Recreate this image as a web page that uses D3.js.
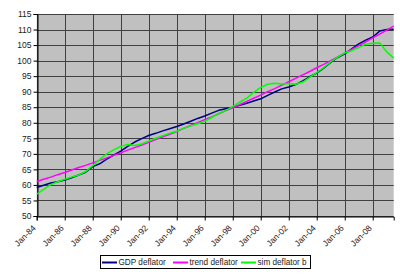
<!DOCTYPE html>
<html><head><meta charset="utf-8">
<script src="https://cdn.jsdelivr.net/npm/d3@7/dist/d3.min.js"></script>
<style>body{margin:0;background:#fff}svg{display:block}text{font-family:"Liberation Sans",Arial,sans-serif;fill:#222}</style>
</head><body><svg id="c" width="400" height="274"></svg>
<script>
// semiannual observation dates (Jan / Jul), 1984 .. Jul 2009
const dates = ["1984-01","1984-07","1985-01","1985-07","1986-01","1986-07","1987-01","1987-07","1988-01","1988-07",
"1989-01","1989-07","1990-01","1990-07","1991-01","1991-07","1992-01","1992-07","1993-01","1993-07",
"1994-01","1994-07","1995-01","1995-07","1996-01","1996-07","1997-01","1997-07","1998-01","1998-07",
"1999-01","1999-07","2000-01","2000-07","2001-01","2001-07","2002-01","2002-07","2003-01","2003-07",
"2004-01","2004-07","2005-01","2005-07","2006-01","2006-07","2007-01","2007-07","2008-01","2008-07",
"2009-01","2009-07"];
const gdpDeflator = [59.2,59.9,60.6,61.0,61.6,62.3,63.2,64.1,65.9,66.8,
68.3,69.6,70.9,72.4,73.8,74.9,75.9,76.6,77.4,78.1,
78.8,79.6,80.5,81.4,82.2,83.1,84.0,84.5,85.0,85.6,
86.3,87.0,87.7,88.8,89.9,90.9,91.5,92.3,93.5,94.8,
96.0,97.6,99.4,101.0,102.2,103.8,105.4,106.6,107.6,109.5,
110.0,110.1];
const trendDeflator = [61.1,61.8,62.5,63.3,64.0,64.8,65.6,66.3,67.1,67.9,
68.7,69.5,70.3,71.2,72.0,72.8,73.7,74.6,75.5,76.3,
77.2,78.2,79.1,80.0,81.0,81.9,82.9,83.9,84.8,85.8,
86.9,87.9,88.9,90.0,91.0,92.1,93.2,94.3,95.4,96.5,
97.7,98.8,100.0,101.2,102.4,103.6,104.8,106.0,107.3,108.5,
109.8,111.1];
const simDeflatorB = [57.0,58.6,60.1,61.0,61.8,62.5,63.2,64.3,66.2,68.2,
70.0,71.3,72.4,73.0,72.7,73.2,74.1,75.0,75.8,76.6,
77.3,78.2,79.0,79.7,80.5,81.7,83.0,84.0,85.2,86.6,
87.9,89.8,91.4,92.4,92.7,92.5,92.6,92.4,93.1,94.6,
96.1,97.7,99.6,101.1,102.5,103.2,104.2,105.3,105.6,105.7,
102.8,100.8];
const seriesNames = ["GDP deflator","trend deflator","sim deflator b"];
const seriesColors = ["#000080","#ff00ff","#00ff00"];
const yTicks = [50,55,60,65,70,75,80,85,90,95,100,105,110,115];
const xTickYears = [1984,1986,1988,1990,1992,1994,1996,1998,2000,2002,2004,2006,2008];

const parse = d3.timeParse("%Y-%m");
const T = dates.map(parse);
const svg = d3.select("#c");
const L = 36.7, R = 393.7, TOP = 14, BOT = 216;
const x = d3.scaleTime().domain([T[0], T[T.length-1]]).range([L, R]);
const y = d3.scaleLinear().domain([50,115]).range([BOT, TOP]);

svg.append("rect").attr("x",L).attr("y",TOP).attr("width",R-L).attr("height",BOT-TOP).attr("fill","#c0c0c0");

const xTicks = xTickYears.map(yr => new Date(yr,0,1));
// gridlines
svg.append("g").selectAll("line").data(yTicks).join("line")
  .attr("x1",L).attr("x2",R).attr("y1",d=>Math.round(y(d))+0.5).attr("y2",d=>Math.round(y(d))+0.5)
  .attr("stroke","#404040").attr("stroke-width",1);
svg.append("g").selectAll("line").data(xTicks).join("line")
  .attr("x1",d=>Math.round(x(d))+0.5).attr("x2",d=>Math.round(x(d))+0.5).attr("y1",TOP).attr("y2",BOT)
  .attr("stroke","#404040").attr("stroke-width",1);

// axes
const yAxis = d3.axisLeft(y).tickValues(yTicks).tickSize(4).tickPadding(2);
const gy = svg.append("g").attr("transform",`translate(${Math.round(L)+0.5},0)`).call(yAxis);
gy.select(".domain").attr("stroke","#000");
gy.selectAll(".tick line").attr("stroke","#000");
gy.selectAll("text").attr("font-size","8.5px").attr("fill","#333").style("font-family","'Liberation Sans',Arial,sans-serif");

const xAxis = d3.axisBottom(x).tickValues(xTicks).tickSize(4).tickFormat(d3.timeFormat("%b-%y"));
const gx = svg.append("g").attr("transform",`translate(0,${Math.round(BOT)+0.5})`).call(xAxis);
gx.select(".domain").attr("stroke","#000");
gx.selectAll(".tick line").attr("stroke","#000");
gx.selectAll("text").attr("font-size","8.5px").attr("fill","#333")
  .style("font-family","'Liberation Sans',Arial,sans-serif")
  .attr("text-anchor","end").attr("y",0).attr("dy","0.35em")
  .attr("transform","translate(-3,10) rotate(-45)");

// lines
const data = [gdpDeflator, trendDeflator, simDeflatorB];
const line = d3.line().x((d,i)=>x(T[i])).y(d=>y(d));
data.forEach((s,k)=>{
  svg.append("path").attr("d",line(s)).attr("fill","none")
    .attr("stroke",seriesColors[k]).attr("stroke-width",1.5).attr("stroke-linejoin","round");
});

// legend
const lg = svg.append("g");
lg.append("rect").attr("x",100.5).attr("y",255.5).attr("width",210).attr("height",13)
  .attr("fill","#fff").attr("stroke","#000").attr("stroke-width",1);
const lx = [102,173,241];
seriesNames.forEach((n,k)=>{
  lg.append("line").attr("x1",lx[k]).attr("x2",lx[k]+15).attr("y1",262.5).attr("y2",262.5)
    .attr("stroke",seriesColors[k]).attr("stroke-width",2);
  lg.append("text").attr("x",lx[k]+16.5).attr("y",262.5).attr("dy","0.35em")
    .attr("font-size","8.2px").text(n);
});
</script></body></html>
